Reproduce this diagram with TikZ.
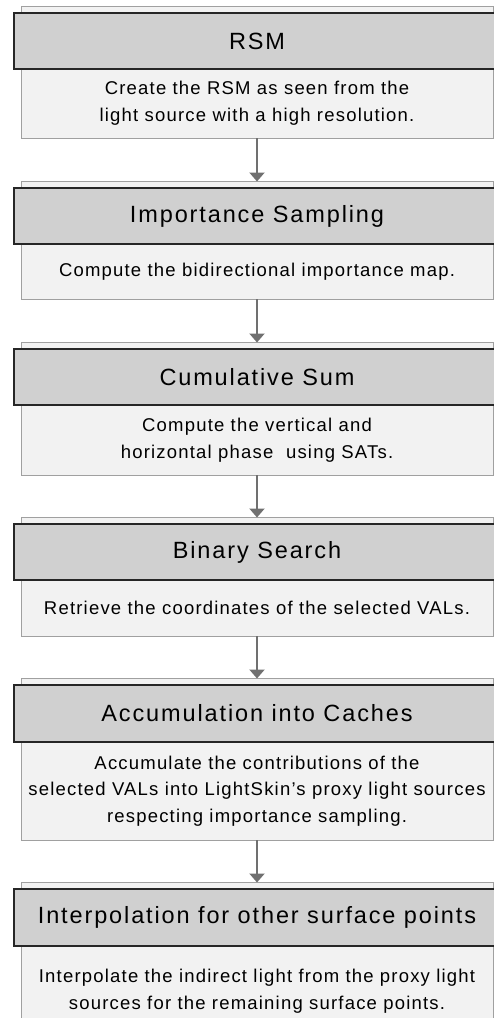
\documentclass[tikz,border=0pt]{standalone}
\usepackage{fontspec}
\setmainfont{Liberation Sans}
\newfontfamily\hdrfont[LetterSpace=8]{Liberation Sans}
\newfontfamily\txtfont[LetterSpace=6.5]{Liberation Sans}
\usetikzlibrary{arrows.meta,calc}
\definecolor{hdrfill}{HTML}{D0D0D0}
\definecolor{bodyfill}{HTML}{F2F2F2}
\definecolor{bodyline}{HTML}{A0A0A0}
\definecolor{arrowc}{HTML}{707070}
\tikzset{
  lightbox/.style={draw=bodyline, fill=bodyfill, line width=1pt},
  hdrbox/.style={draw=black!85, fill=hdrfill, line width=1.3pt},
  hdrtext/.style={inner sep=0pt, font=\hdrfont\fontsize{23.5}{28}\selectfont},
  bodytext/.style={align=center, inner sep=0pt, font=\txtfont\fontsize{18.5}{26.7}\selectfont},
  flow/.style={draw=arrowc, line width=2pt, -{Triangle[width=15pt,length=9pt]}, shorten >=-0.5pt}
}
\newcommand{\stepbox}[6]{%
  % #1 name, #2 light top, #3 header bottom, #4 light bottom, #5 title, #6 text
  \path[lightbox] (21,#2) rectangle (493.5,#4);
  \node[coordinate] (#1top) at (257,#2) {};
  \node[coordinate] (#1bot) at (257,#4) {};
  \path[hdrbox] (14,#2+7) rectangle (505,#3);
  \node[hdrtext] (#1head) at (257,{(#2+7+#3)/2}) {#5};
  \node[bodytext] (#1text) at (257,{(#3+#4)/2}) {#6};
}
\begin{document}
\begin{tikzpicture}[x=1pt,y=-1pt]
\useasboundingbox (0,0) rectangle (494,1018);
\stepbox{s1}{6}{69}{138}{RSM}{Create the RSM as seen from the\\light source with a high resolution.}
\stepbox{s2}{181}{244}{299}{Importance Sampling}{Compute the bidirectional importance map.}
\stepbox{s3}{342}{405}{475}{Cumulative Sum}{Compute the vertical and\\horizontal phase \ using SATs.}
\stepbox{s4}{517}{580}{636}{Binary Search}{Retrieve the coordinates of the selected VALs.}
\stepbox{s5}{678}{742}{840}{Accumulation into Caches}{Accumulate the contributions of the\\selected VALs into LightSkin’s proxy light sources\\respecting importance sampling.}
\stepbox{s6}{882}{946}{1036}{Interpolation for other surface points}{Interpolate the indirect light from the proxy light\\sources for the remaining surface points.}
\draw[flow] (s1bot) -- (s2top);
\draw[flow] (s2bot) -- (s3top);
\draw[flow] (s3bot) -- (s4top);
\draw[flow] (s4bot) -- (s5top);
\draw[flow] (s5bot) -- (s6top);
\end{tikzpicture}
\end{document}
